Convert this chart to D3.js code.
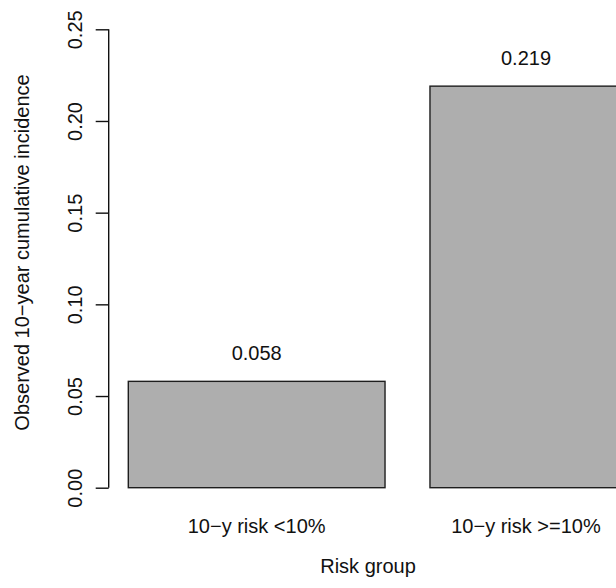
<!DOCTYPE html>
<html>
<head>
<meta charset="utf-8">
<script src="https://cdn.jsdelivr.net/npm/d3@7/dist/d3.min.js"></script>
<style>
  html, body { margin: 0; padding: 0; background: #fff; }
  svg { display: block; font-family: "Liberation Sans", Arial, sans-serif; }
</style>
</head>
<body>
<script>
// Observed 10-year cumulative incidence by predicted risk group
const categories = ["10\u2212y risk <10%", "10\u2212y risk >=10%"];
const incidence = [0.058, 0.219];
const valueLabels = ["0.058", "0.219"];
const yTicks = [0.00, 0.05, 0.10, 0.15, 0.20, 0.25];

const W = 616, H = 588;
const svg = d3.select("body").append("svg")
  .attr("width", W).attr("height", H);

const y = d3.scaleLinear().domain([0, 0.25]).range([487.7, 29.3]);
const x = d3.scaleBand()
  .domain(categories)
  .range([128.3, 686.7])
  .paddingInner(0.149)
  .paddingOuter(0);

const axisX = 108.7;
const fontSize = 20;

// centre of the part of each bar that lies on the canvas
const labelX = c => {
  const x0 = x(c), x1 = Math.min(x0 + x.bandwidth(), W + 6);
  return (x0 + x1) / 2;
};

// bars
svg.append("g").selectAll("rect")
  .data(incidence)
  .join("rect")
  .attr("x", (d, i) => x(categories[i]))
  .attr("y", d => y(d))
  .attr("width", x.bandwidth())
  .attr("height", d => y(0) - y(d))
  .attr("fill", "#aeaeae")
  .attr("stroke", "#1e1e1e")
  .attr("stroke-width", 1.4);

// value labels above bars
svg.append("g").selectAll("text")
  .data(incidence)
  .join("text")
  .attr("x", (d, i) => labelX(categories[i]))
  .attr("y", d => y(d) - 21)
  .attr("text-anchor", "middle")
  .attr("font-size", fontSize)
  .attr("fill", "#111")
  .text((d, i) => valueLabels[i]);

// category labels
svg.append("g").selectAll("text")
  .data(categories)
  .join("text")
  .attr("x", d => labelX(d))
  .attr("y", 533)
  .attr("text-anchor", "middle")
  .attr("font-size", fontSize)
  .attr("fill", "#111")
  .text(d => d);

// y axis
const yAxis = d3.axisLeft(y)
  .tickValues(yTicks)
  .tickSize(13)
  .tickFormat(d3.format(".2f"));
const gy = svg.append("g")
  .attr("transform", `translate(${axisX},0)`)
  .call(yAxis);
gy.select(".domain")
  .attr("d", `M0,${y(0)}V${y(0.25)}`)
  .attr("stroke", "#111")
  .attr("stroke-width", 1.4);
gy.selectAll(".tick line").attr("stroke", "#111").attr("stroke-width", 1.4);
gy.selectAll(".tick text")
  .attr("font-size", fontSize)
  .attr("font-family", "Liberation Sans, Arial, sans-serif")
  .attr("fill", "#111")
  .attr("x", null).attr("dy", null)
  .attr("text-anchor", "middle")
  .attr("transform", "translate(-27,0) rotate(-90)");

// axis titles
svg.append("text")
  .attr("transform", "translate(29,252.5) rotate(-90)")
  .attr("text-anchor", "middle")
  .attr("font-size", fontSize)
  .attr("fill", "#111")
  .text("Observed 10\u2212year cumulative incidence");

svg.append("text")
  .attr("x", 368)
  .attr("y", 573)
  .attr("text-anchor", "middle")
  .attr("font-size", fontSize)
  .attr("fill", "#111")
  .text("Risk group");
</script>
</body>
</html>
